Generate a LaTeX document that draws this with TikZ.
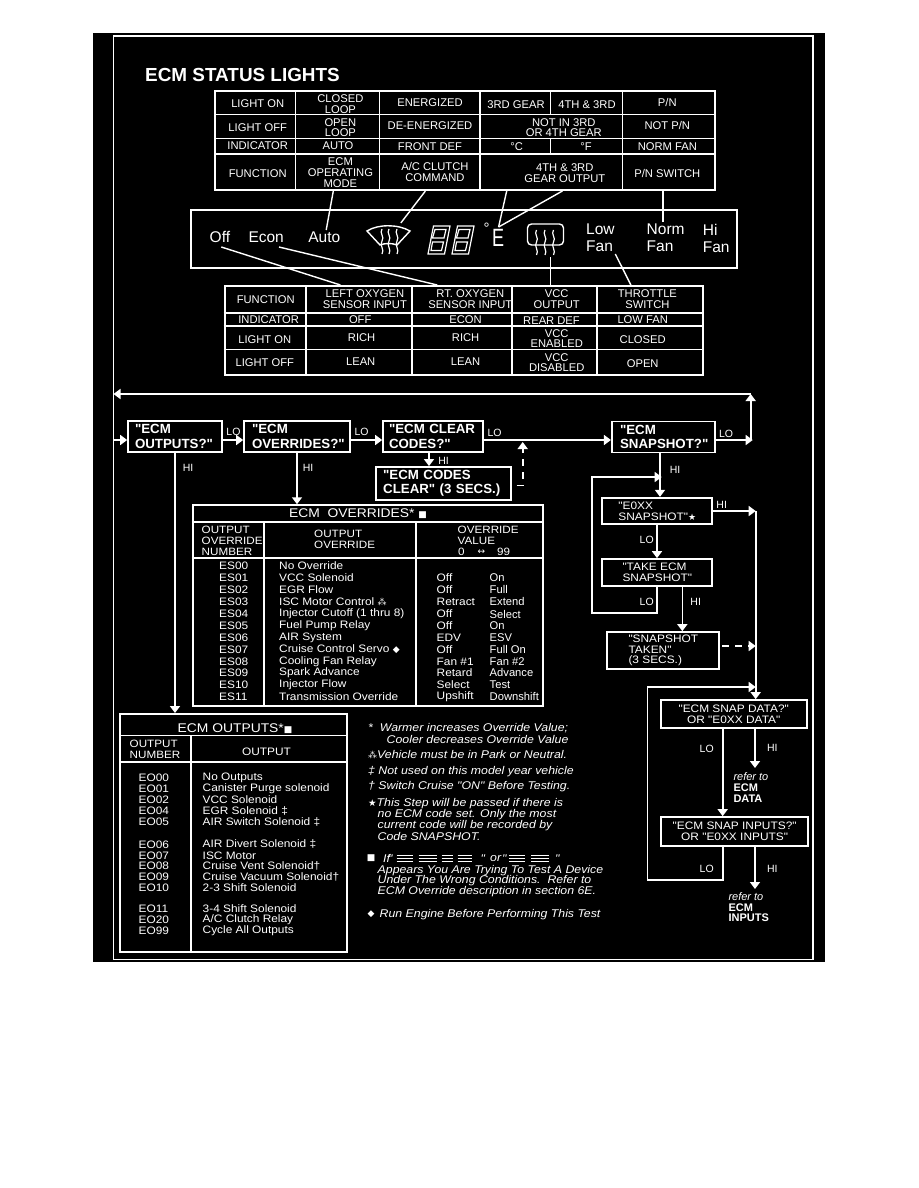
\documentclass[tikz,border=0pt]{standalone}
\usepackage{fontspec}
\setmainfont{Liberation Sans}
\newfontfamily\boxfont{Liberation Sans}
\newfontfamily\listfont[FakeStretch=1.1]{Liberation Sans}
\newfontfamily\narrowfont[FakeStretch=0.72]{Liberation Sans}
\newfontfamily\symfont{DejaVu Sans}
\usetikzlibrary{positioning,shapes,arrows.meta,shapes.geometric}
\newcommand{\tristar}{{\symfont\fontsize{9}{9}\selectfont ⁂}}
\newcommand{\heatline}[2]{\draw[icon] (#1,#2) .. controls (#1-3,#2+4) and (#1+3,#2+8) .. (#1,#2+12) .. controls (#1-3,#2+16) and (#1+3,#2+21) .. (#1,#2+25);}
\tikzset{
    panel/.style={draw=white, line width=2pt, inner sep=0pt},
    grid/.style={line width=1.7pt},
    cell/.style={inner sep=0pt, align=center, font=\fontsize{11.2}{10.7}\selectfont},
    lamp/.style={inner sep=0pt, align=left, anchor=west, font=\fontsize{15.5}{17}\selectfont},
    listrow/.style={inner sep=0pt, anchor=west, font=\listfont\fontsize{10.8}{12}\selectfont},
    header/.style={inner sep=0pt, align=left, anchor=west, font=\listfont\fontsize{10.6}{11}\selectfont},
    tabletitle/.style={inner sep=0pt, font=\listfont\fontsize{12.6}{13}\selectfont},
    noteline/.style={inner sep=0pt, anchor=west, font=\listfont\itshape\fontsize{11.2}{12}\selectfont},
    edgelabel/.style={inner sep=0pt, font=\fontsize{10.5}{11}\selectfont},
    stepbox/.style={draw=white, line width=1.7pt, minimum height=31pt, align=left, font=\boxfont\bfseries\fontsize{13.3}{14.4}\selectfont},
    smallbox/.style={draw=white, line width=1.7pt, align=center, inner sep=0pt, font=\listfont\fontsize{10.8}{10.6}\selectfont},
    flow/.style={line width=1.6pt, -{Triangle[length=7pt,width=10pt]}},
    dashflow/.style={line width=1.6pt, dash pattern=on 7pt off 6pt, -{Triangle[length=7pt,width=10pt]}},
    lead/.style={line width=1.4pt},
    icon/.style={line width=1.2pt}
}
\begin{document}
\begin{tikzpicture}[white, x=1pt, y=-1pt]
    \useasboundingbox (0,0) rectangle (918,1188);
    \fill[white] (0,0) rectangle (918,1188);
    \fill[black] (93,33) rectangle (825,962);
    \draw[line width=1.8pt] (113.5,36) rectangle (813,959.5);
    \node[inner sep=0pt, anchor=west, font=\bfseries\fontsize{18.9}{20}\selectfont] (title) at (145,75) {ECM STATUS LIGHTS};

    % upper table of lights
    \node[panel, minimum width=499.3pt, minimum height=99pt] (lights) at (464.85,140.5) {};
    \foreach \y in {114.5,138.5,154} \draw[grid] (lights.west |- 0,\y) -- (lights.east |- 0,\y);
    \foreach \x in {295.5,379.6,480.2,622.4} \draw[grid] (\x,91) -- (\x,190);
    \draw[grid] (550.6,91) -- (550.6,114.5);
    \draw[grid] (550.6,138.5) -- (550.6,154);
    \foreach \x/\y/\txt [count=\i] in {
        257.7/104/{LIGHT ON}, 257.7/127.5/{LIGHT OFF}, 257.7/146/{INDICATOR}, 257.7/173.5/{FUNCTION},
        340.4/104/{CLOSED\\LOOP}, 340.4/127.5/{OPEN\\LOOP}, 338/146/{AUTO}, 340.4/172.5/{ECM\\OPERATING\\MODE},
        430/103/{ENERGIZED}, 430/126/{DE-ENERGIZED}, 430/146.5/{FRONT DEF}, 434.9/172/{A/C CLUTCH\\COMMAND},
        516/105/{3RD GEAR}, 587/105/{4TH \& 3RD}, 563.8/127.5/{NOT IN 3RD\\OR 4TH GEAR},
        516.6/146.5/{°C}, 586/146.5/{°F}, 564.8/173/{4TH \& 3RD\\GEAR OUTPUT},
        667.3/102.5/{P/N}, 667.3/125.5/{NOT P/N}, 667.3/147/{NORM FAN}, 667.3/173/{P/N SWITCH}}
        \node[cell] (upper\i) at (\x,\y) {\txt};

    % display panel
    \node[panel, minimum width=546.6pt, minimum height=58pt] (display) at (463.9,239) {};
    \node[lamp] (offlbl) at (209.5,237) {Off};
    \node[lamp] (econlbl) at (248.3,237) {Econ};
    \node[lamp] (autolbl) at (308.2,237) {Auto};
    \node[lamp] (lowfan) at (586,238) {Low\\Fan};
    \node[lamp] (normfan) at (646.5,238) {Norm\\Fan};
    \node[lamp] (hifan) at (702.7,238) {Hi\\Fan};
    \node[inner sep=0pt, font=\fontsize{15}{15}\selectfont] (degree) at (486.5,228) {°};
    \node[inner sep=0pt, font=\narrowfont\fontsize{25}{25}\selectfont] (unit) at (498,238) {E};

    % front defrost
    \draw[icon, line width=1.4pt] (367,231) .. controls (378,224) and (398,224) .. (410,231) -- (397,245) .. controls (392,243) and (385,243) .. (380,245) -- cycle;
    \foreach \x in {382,389,397} {\heatline{\x}{229}}
    % two digit readout
    \foreach \d in {0,24} {
        \draw[icon] (428+\d,254) -- (433.5+\d,226) -- (450+\d,226) -- (444.5+\d,254) -- cycle;
        \draw[icon] (432.5+\d,238) -- (435+\d,229.5) -- (446+\d,229.5) -- (444+\d,238) -- cycle;
        \draw[icon] (431+\d,250.5) -- (432.5+\d,242) -- (443.5+\d,242) -- (441.5+\d,250.5) -- cycle;
    }
    % rear defrost
    \draw[icon, line width=1.4pt, rounded corners=4pt] (527.5,224) rectangle (563.5,245);
    \foreach \x in {536.5,545,553.5} {\heatline{\x}{230}}

    % leads to the display
    \coordinate (autotip) at (326.2,230);
    \coordinate (fronttip) at (400.8,223);
    \coordinate (unittip) at (498.6,227);
    \coordinate (normtip) at (663,222);
    \draw[lead] (lights.south -| 333.3,0) -- (autotip);
    \draw[lead] (lights.south -| 425.4,0) -- (fronttip);
    \draw[lead] (lights.south -| 506.7,0) -- (unittip);
    \draw[lead] (lights.south -| 562.4,0) -- (unittip);
    \draw[lead] (lights.south -| normtip) -- (normtip);

    % lower table of lights
    \node[panel, minimum width=478pt, minimum height=89pt] (sensors) at (463.65,330.5) {};
    \foreach \y in {313,326,349.5} \draw[grid] (sensors.west |- 0,\y) -- (sensors.east |- 0,\y);
    \foreach \x in {305.9,412.2,511.9,596.9} \draw[grid] (\x,286) -- (\x,375);
    \foreach \x/\y/\txt [count=\i] in {
        265.7/299.5/{FUNCTION}, 268.6/320/{INDICATOR}, 264.8/339.5/{LIGHT ON}, 264.8/362.5/{LIGHT OFF},
        364.9/299/{LEFT OXYGEN\\SENSOR INPUT}, 360.2/320/{OFF}, 361.6/337.5/{RICH}, 360.7/361.5/{LEAN},
        470.3/299/{RT. OXYGEN\\SENSOR INPUT}, 465.6/320/{ECON}, 465.6/337.5/{RICH}, 465.6/361.5/{LEAN},
        556.7/299/{VCC\\OUTPUT}, 551.5/320.5/{REAR DEF}, 556.7/338.5/{VCC\\ENABLED}, 556.7/362.5/{VCC\\DISABLED},
        647.4/299/{THROTTLE\\SWITCH}, 642.7/320/{LOW FAN}, 642.7/340/{CLOSED}, 642.7/363.5/{OPEN}}
        \node[cell] (lower\i) at (\x,\y) {\txt};

    % leads from the display
    \coordinate (offtail) at (221.3,247);
    \coordinate (econtail) at (279,247);
    \coordinate (reartail) at (550.6,257);
    \coordinate (lowtail) at (615.3,254);
    \draw[lead] (offtail) -- (sensors.north -| 340.4,0);
    \draw[lead] (econtail) -- (sensors.north -| 437.2,0);
    \draw[lead] (reartail) -- (sensors.north -| reartail);
    \draw[lead] (lowtail) -- (sensors.north -| 630.9,0);

    % top row of the flow chart
    \coordinate (mainrow) at (0,440);
    \coordinate (toprow) at (0,394);
    \coordinate (leftrail) at (113.5,0);
    \coordinate (rightrail) at (750.7,0);
    \node[stepbox, minimum width=94pt, text width=80pt, inner xsep=7pt] (outputs) at (175,436.5) {"ECM\\OUTPUTS?"};
    \node[stepbox, minimum width=106pt, text width=90pt, inner xsep=8pt] (overrides) at (297,436.5) {"ECM\\OVERRIDES?"};
    \node[stepbox, minimum width=100pt, text width=88pt, inner xsep=6pt] (clearcodes) at (433,436.5) {"ECM CLEAR\\CODES?"};
    \node[stepbox, minimum width=134.7pt, text width=120.7pt, inner xsep=7pt] (codesclear) at (443.5,483.5) {"ECM CODES\\CLEAR" (3 SECS.)};
    \node[stepbox, minimum width=103.3pt, text width=86.7pt, inner xsep=8.3pt] (snapshot) at (663.4,437) {"ECM\\SNAPSHOT?"};
    \draw[flow] (leftrail |- mainrow) -- (outputs.west |- mainrow);
    \draw[flow] (outputs.east |- mainrow) -- (overrides.west |- mainrow);
    \draw[flow] (overrides.east |- mainrow) -- (clearcodes.west |- mainrow);
    \draw[flow] (clearcodes.east |- mainrow) -- (snapshot.west |- mainrow);
    \draw[flow] (snapshot.east |- mainrow) -- ([xshift=2pt]rightrail |- mainrow);
    \draw[flow] (rightrail |- mainrow) -- (rightrail |- toprow);
    \draw[flow] (rightrail |- toprow) -- (leftrail |- toprow);
    \coordinate (clearhi) at (429,0);
    \draw[flow] (clearcodes.south -| clearhi) -- (codesclear.north -| clearhi);
    \coordinate (dashtip) at (522.7,442);
    \draw[dashflow] ([shift={(5pt,-2pt)}]codesclear.east) -| (dashtip);
    \node[edgelabel] (lo1) at (233.5,432) {LO};
    \node[edgelabel] (lo2) at (361.5,432) {LO};
    \node[edgelabel] (lo3) at (494.5,433) {LO};
    \node[edgelabel] (lo4) at (726,434) {LO};
    \node[edgelabel] (hi1) at (188,468) {HI};
    \node[edgelabel] (hi2) at (308,468) {HI};
    \node[edgelabel] (hi3) at (443.5,461) {HI};

    % overrides table
    \node[panel, minimum width=350.5pt, minimum height=200.5pt] (overtable) at (368,605.5) {};
    \draw[flow] (overrides.south) -- (overtable.north -| overrides.south);
    \draw[grid] (overtable.west |- 0,522) -- (overtable.east |- 0,522);
    \draw[grid] (overtable.west |- 0,558) -- (overtable.east |- 0,558);
    \draw[grid] (264,522) -- (264,705.5);
    \draw[grid] (416,522) -- (416,705.5);
    \node[tabletitle] (overtitle) at (358,514) {ECM\ \ OVERRIDES* {\symfont\fontsize{9}{9}\selectfont ■}};
    \node[header] (overhead1) at (201.5,541) {OUTPUT\\OVERRIDE\\NUMBER};
    \node[header] (overhead2) at (314,539.5) {OUTPUT\\OVERRIDE};
    \node[header] (overhead3) at (457.5,535.5) {OVERRIDE\\VALUE};
    \node[header] (overzero) at (458,552) {0};
    \node[inner sep=0pt, font=\symfont\fontsize{9}{9}\selectfont] (overarrow) at (481.5,552) {↔};
    \node[header] (overtop) at (497,552) {99};
    \foreach \y/\code/\name/\lo/\hi [count=\i] in {
        566/ES00/{No Override}/{}/{},
        577.3/ES01/{VCC Solenoid}/Off/On,
        589.7/ES02/{EGR Flow}/Off/Full,
        601.7/ES03/{ISC Motor Control \tristar}/Retract/Extend,
        614/ES04/{Injector Cutoff (1 thru 8)}/Off/Select,
        625.7/ES05/{Fuel Pump Relay}/Off/On,
        637.7/ES06/{AIR System}/EDV/ESV,
        649.3/ES07/{Cruise Control Servo {\symfont\fontsize{9}{9}\selectfont ◆}}/Off/{Full On},
        661.7/ES08/{Cooling Fan Relay}/{Fan \#1}/{Fan \#2},
        672.3/ES09/{Spark Advance}/Retard/Advance,
        684.3/ES10/{Injector Flow}/Select/Test,
        696.7/ES11/{Transmission Override}/Upshift/Downshift} {
        \node[listrow] (escode\i) at (219,\y) {\code};
        \node[listrow] (esname\i) at (279,\y) {\name};
        \node[listrow] (eslo\i) at (436.5,\y) {\lo};
        \node[listrow, font=\fontsize{11.2}{12}\selectfont] (eshi\i) at (489.5,\y) {\hi};
    }

    % outputs table
    \node[panel, minimum width=227pt, minimum height=238pt] (outtable) at (233.5,833) {};
    \draw[flow] (outputs.south) -- (outtable.north -| outputs.south);
    \draw[grid] (outtable.west |- 0,735.5) -- (outtable.east |- 0,735.5);
    \draw[grid] (outtable.west |- 0,762) -- (outtable.east |- 0,762);
    \draw[grid] (191,735.5) -- (191,952);
    \node[tabletitle] (outtitle) at (235,729) {ECM OUTPUTS*{\symfont\fontsize{9}{9}\selectfont ■}};
    \node[header] (outhead1) at (129.5,749) {OUTPUT\\NUMBER};
    \node[tabletitle, font=\listfont\fontsize{10.8}{11}\selectfont] (outhead2) at (266.5,751.5) {OUTPUT};
    \foreach \y/\code/\name [count=\i] in {
        778/EO00/{No Outputs},
        789/EO01/{Canister Purge solenoid},
        800/EO02/{VCC Solenoid},
        811/EO04/{EGR Solenoid ‡},
        821.7/EO05/{AIR Switch Solenoid ‡},
        844.3/EO06/{AIR Divert Solenoid ‡},
        855.4/EO07/{ISC Motor},
        865.9/EO08/{Cruise Vent Solenoid†},
        877/EO09/{Cruise Vacuum Solenoid†},
        887.5/EO10/{2-3 Shift Solenoid},
        909/EO11/{3-4 Shift Solenoid},
        919.8/EO20/{A/C Clutch Relay},
        931/EO99/{Cycle All Outputs}} {
        \node[listrow] (eocode\i) at (138.5,\y) {\code};
        \node[listrow] (eoname\i) at (202.5,\y) {\name};
    }

    % footnotes
    \foreach \x/\y/\txt [count=\i] in {
        368/728/{*\ \ Warmer increases Override Value;},
        386.5/739.5/{Cooler decreases Override Value},
        368/754.5/{\tristar Vehicle must be in Park or Neutral.},
        368/771.5/{‡ Not used on this model year vehicle},
        368/787/{† Switch Cruise "ON" Before Testing.},
        368/803.5/{{\symfont\fontsize{9.5}{9}\selectfont ★}This Step will be passed if there is},
        377.5/814.3/{no ECM code set. Only the most},
        377.5/825.4/{current code will be recorded by},
        377.5/836.2/{Code SNAPSHOT.},
        383/858.5/{If},
        388/858.5/{"},
        480.5/858.5/{"},
        490/858.5/{or},
        502/858.5/{"},
        555/858.5/{"},
        377.5/870.3/{Appears You Are Trying To Test A Device},
        377.5/881/{Under The Wrong Conditions.\ \ Refer to},
        377.5/891.5/{ECM Override description in section 6E.},
        379.5/914.4/{Run Engine Before Performing This Test}}
        \node[noteline] (note\i) at (\x,\y) {\txt};
    \node[inner sep=0pt, font=\symfont\fontsize{9}{9}\selectfont] (notesquare) at (371,858.5) {■};
    \node[inner sep=0pt, font=\symfont\fontsize{9}{9}\selectfont] (notediamond) at (371,914.5) {◆};
    \foreach \a/\b in {396.5/412.5, 418.5/437, 441.5/453, 457.5/471.5, 509/525, 531/549} {
        \foreach \dy in {-2.6,0,2.6}
            \draw[line width=0.9pt] (\a,858.5+\dy) -- (\b,858.5+\dy);
    }

    % snapshot branch
    \node[smallbox, minimum width=110pt, minimum height=26.6pt, align=left] (snapcode) at (657.3,511) {"E0XX\\SNAPSHOT"{\symfont\fontsize{9}{9}\selectfont ★}};
    \node[smallbox, minimum width=110pt, minimum height=27pt, align=left] (takesnap) at (657.3,572.5) {"TAKE ECM\\SNAPSHOT"};
    \node[smallbox, minimum width=112pt, minimum height=37pt, align=left] (snaptaken) at (663.3,650.5) {"SNAPSHOT\\TAKEN"\\(3 SECS.)};
    \node[smallbox, minimum width=146pt, minimum height=28pt] (snapdata) at (733.7,714) {"ECM SNAP DATA?"\\OR "E0XX DATA"};
    \node[smallbox, minimum width=147.3pt, minimum height=29pt] (snapinputs) at (734.6,831.5) {"ECM SNAP INPUTS?"\\OR "E0XX INPUTS"};

    \coordinate (snaprow) at (0,477);
    \coordinate (snapline) at (660,0);
    \coordinate (looptip) at (661.7,477);
    \coordinate (loopleft) at (591.7,0);
    \coordinate (looptail) at (0,613);
    \coordinate (losnap) at (657,0);
    \coordinate (hisnap) at (682.3,0);
    \coordinate (hirail) at (755.7,0);
    \draw[flow] (snapshot.south -| snapline) -- (snapcode.north -| snapline);
    \draw[flow] (takesnap.south -| losnap) -- (looptail -| losnap) -- (looptail -| loopleft) -- (snaprow -| loopleft) -- (looptip);
    \draw[flow] (snapcode.south -| losnap) -- (takesnap.north -| losnap);
    \draw[flow] (takesnap.south -| hisnap) -- (snaptaken.north -| hisnap);
    \draw[flow] (snapcode.east) -- (snapcode.east -| hirail);
    \draw[flow] (snapcode.east -| hirail) -- (snapdata.north -| hirail);
    \draw[dashflow] ([xshift=2pt]snaptaken.east |- 0,646) -- (hirail |- 0,646);
    \node[edgelabel] (hi4) at (675,470) {HI};
    \node[edgelabel] (hi5) at (721.7,505) {HI};
    \node[edgelabel] (lo5) at (646.7,540) {LO};
    \node[edgelabel] (lo6) at (646.7,601.5) {LO};
    \node[edgelabel] (hi6) at (695.7,601.5) {HI};

    % data and inputs branch
    \coordinate (datarow) at (0,687);
    \coordinate (loopdata) at (647.3,0);
    \coordinate (loinputs) at (722.7,0);
    \coordinate (loopfoot) at (0,880);
    \coordinate (datatip) at (755,768);
    \coordinate (inputstip) at (755,889);
    \node[inner sep=0pt, align=left, anchor=north west, font=\fontsize{11}{11.2}\selectfont] (refdata) at (733.3,772) {\textit{refer to}\\\textbf{ECM}\\\textbf{DATA}};
    \node[inner sep=0pt, align=left, anchor=north west, font=\fontsize{11}{10.6}\selectfont] (refinputs) at (728.3,892.5) {\textit{refer to}\\\textbf{ECM}\\\textbf{INPUTS}};
    \draw[flow] (snapinputs.south -| loinputs) -- (loopfoot -| loinputs) -- (loopfoot -| loopdata) -- (datarow -| loopdata) -- (datarow -| hirail);
    \draw[flow] (snapdata.south -| loinputs) -- (snapinputs.north -| loinputs);
    \draw[flow] (snapdata.south -| datatip) -- (datatip);
    \draw[flow] (snapinputs.south -| inputstip) -- (inputstip);
    \node[edgelabel] (lo7) at (706.7,749) {LO};
    \node[edgelabel] (hi7) at (772.3,748) {HI};
    \node[edgelabel] (lo8) at (706.7,868.5) {LO};
    \node[edgelabel] (hi8) at (772.3,868.5) {HI};
\end{tikzpicture}
\end{document}
